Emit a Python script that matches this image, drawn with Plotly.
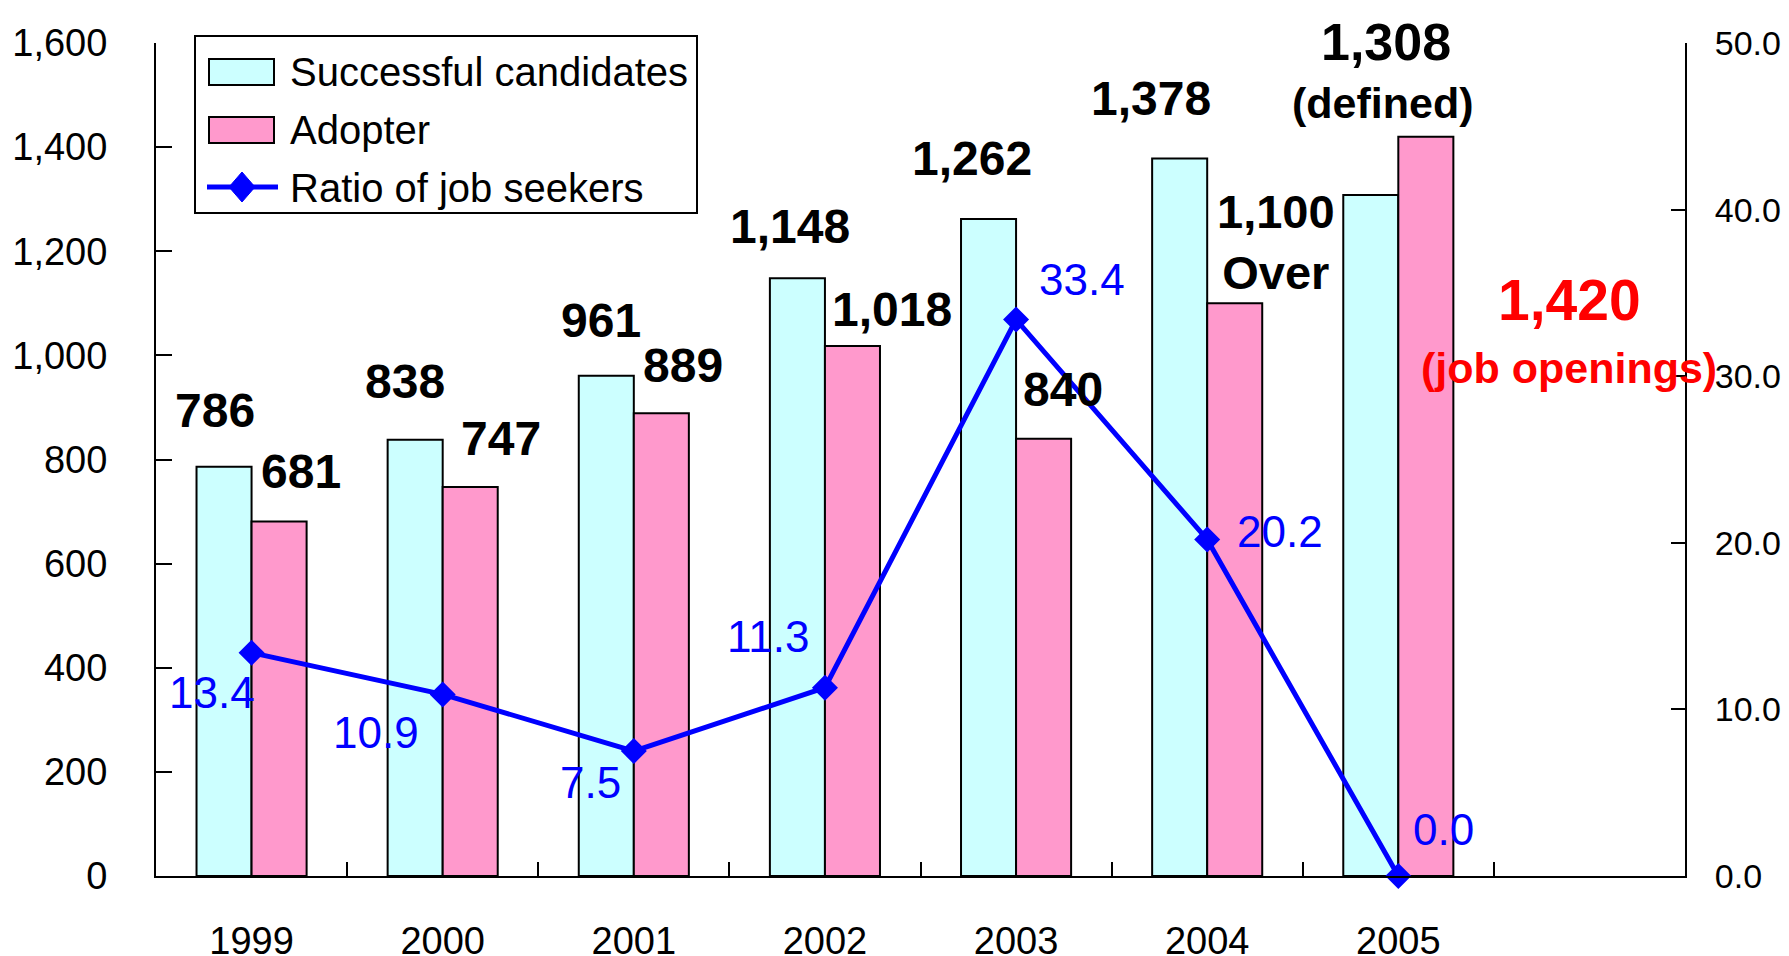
import plotly.graph_objects as go

# ---- data ----
years = ["1999", "2000", "2001", "2002", "2003", "2004", "2005"]
successful = [786, 838, 961, 1148, 1262, 1378, 1308]
adopter = [681, 747, 889, 1018, 840, 1100, 1420]
ratio = [13.4, 10.9, 7.5, 11.3, 33.4, 20.2, 0.0]
left_ticks = [0, 200, 400, 600, 800, 1000, 1200, 1400, 1600]
right_ticks = [0, 10, 20, 30, 40, 50]

# ---- layout geometry (page pixels) ----
OFF = 8                      # default body margin of the html page
W, H = 1789 - OFF, 956 - OFF
PL, PR, PT, PB = 156, 1685, 43, 876          # plot area in page pixels
L, T = PL - OFF, PT - OFF
PW, PH = PR - PL, PB - PT
R = W - L - PW
B = H - T - PH

def px(x):  # page pixel x -> paper
    return (x - PL) / PW

def py(y):  # page pixel y -> paper
    return (PB - y) / PH

FONT = "Arial, Liberation Sans, sans-serif"
CYAN = "#CCFFFF"
PINK = "#FF99CC"
BLUE = "#0000FF"

fig = go.Figure()
fig.add_trace(go.Bar(x=years, y=successful, name="Successful candidates",
                     marker=dict(color=CYAN, line=dict(color="black", width=2))))
fig.add_trace(go.Bar(x=years, y=adopter, name="Adopter",
                     marker=dict(color=PINK, line=dict(color="black", width=2))))
fig.add_trace(go.Scatter(x=years, y=ratio, name="Ratio of job seekers", yaxis="y2",
                         mode="lines+markers", cliponaxis=False,
                         line=dict(color=BLUE, width=5),
                         marker=dict(symbol="diamond", size=20, color=BLUE)))

# ---- label offsets (pixels) ----
succ_off = [(-37, 56), (-38, 58), (-33, 55), (-35, 52), (-44, 60), (-56, 60), (-12, 153)]
adop_off = [(49, 50), (58, 49), (49, 48), (67, 37), (47, 49), (69, 61), (171, -163)]
ratio_off = [(-40, -40), (-67, -38), (-43, -31), (-57, 51), (66, 40), (73, 8), (45, 47)]

ann = []
for i, v in enumerate(successful):
    dx, dy = succ_off[i]
    ann.append(dict(x=i, y=v, xref="x", yref="y", text=f"<b>{v:,}</b>",
                    xshift=dx, yshift=dy, showarrow=False,
                    font=dict(family=FONT, size=52 if i == 6 else 48, color="black")))
# "(defined)" under the 2005 successful label
ann.append(dict(x=6, y=successful[6], xref="x", yref="y", text="<b>(defined)</b>",
                xshift=-15, yshift=92, showarrow=False,
                font=dict(family=FONT, size=43, color="black")))

for i, v in enumerate(adopter):
    dx, dy = adop_off[i]
    if i == 5:
        txt = f"<b>{v:,}<br>Over</b>"
        f = dict(family=FONT, size=47, color="black")
    elif i == 6:
        txt = f"<b>{v:,}</b>"
        f = dict(family=FONT, size=57, color="#FF0000")
    else:
        txt = f"<b>{v:,}</b>"
        f = dict(family=FONT, size=48, color="black")
    ann.append(dict(x=i, y=v, xref="x", yref="y", text=txt, xshift=dx, yshift=dy,
                    showarrow=False, font=f))
ann.append(dict(x=6, y=adopter[6], xref="x", yref="y", text="<b>(job openings)</b>",
                xshift=171, yshift=-231, showarrow=False,
                font=dict(family=FONT, size=43, color="#FF0000")))

for i, v in enumerate(ratio):
    dx, dy = ratio_off[i]
    ann.append(dict(x=i, y=v, xref="x", yref="y2", text=f"{v:.1f}", xshift=dx, yshift=dy,
                    showarrow=False, font=dict(family=FONT, size=44, color=BLUE)))

# partially visible unit mark at top right
ann.append(dict(x=px(1781), y=py(14), xref="paper", yref="paper", text="%",
                xanchor="left", yanchor="middle", showarrow=False,
                font=dict(family=FONT, size=20, color="black")))

# ---- manual legend ----
shapes = []
shapes.append(dict(type="rect", xref="paper", yref="paper",
                   x0=px(195), x1=px(697), y0=py(213), y1=py(36),
                   line=dict(color="black", width=2), fillcolor="white", layer="above"))
shapes.append(dict(type="rect", xref="paper", yref="paper",
                   x0=px(209), x1=px(274), y0=py(85), y1=py(59),
                   line=dict(color="black", width=2), fillcolor=CYAN, layer="above"))
shapes.append(dict(type="rect", xref="paper", yref="paper",
                   x0=px(209), x1=px(274), y0=py(143), y1=py(117),
                   line=dict(color="black", width=2), fillcolor=PINK, layer="above"))
shapes.append(dict(type="line", xref="paper", yref="paper",
                   x0=px(207), x1=px(278), y0=py(187), y1=py(187),
                   line=dict(color=BLUE, width=5), layer="above"))
cx, cy = 242, 187
shapes.append(dict(type="path", xref="paper", yref="paper",
                   path=f"M {px(cx-13)} {py(cy)} L {px(cx)} {py(cy-15)} L {px(cx+13)} {py(cy)} L {px(cx)} {py(cy+15)} Z",
                   line=dict(color=BLUE, width=1), fillcolor=BLUE, layer="above"))
for label, yc in [("Successful candidates", 72), ("Adopter", 130), ("Ratio of job seekers", 188)]:
    ann.append(dict(x=px(288), y=py(yc), xref="paper", yref="paper", text=label,
                    xanchor="left", yanchor="middle", showarrow=False,
                    font=dict(family=FONT, size=40, color="black")))

fig.update_layout(
    width=W, height=H,
    margin=dict(l=L, r=R, t=T, b=B, pad=0, autoexpand=False),
    paper_bgcolor="white", plot_bgcolor="white",
    showlegend=False,
    barmode="group", bargap=0.424, bargroupgap=0,
    font=dict(family=FONT, size=38, color="black"),
    xaxis=dict(type="category", categoryorder="array", categoryarray=years,
               range=[-0.5, 7.5], showline=True, linecolor="black", linewidth=2,
               ticks="inside", tickson="boundaries", ticklen=14, tickwidth=1.5,
               tickcolor="black", showgrid=False, zeroline=False, automargin=False,
               tickfont=dict(family=FONT, size=38, color="black"),
               ticklabelstandoff=30),
    yaxis=dict(range=[0, 1600], tickvals=left_ticks, tickformat=",",
               showline=True, linecolor="black", linewidth=2,
               ticks="inside", ticklen=16, tickwidth=2, tickcolor="black",
               showgrid=False, zeroline=False, automargin=False,
               tickfont=dict(family=FONT, size=38, color="black"),
               ticklabelstandoff=39),
    yaxis2=dict(range=[0, 50], tickvals=right_ticks, tickformat=".1f",
                overlaying="y", side="right",
                showline=True, linecolor="black", linewidth=2,
                ticks="inside", ticklen=14, tickwidth=2, tickcolor="black",
                showgrid=False, zeroline=False, automargin=False,
                tickfont=dict(family=FONT, size=34, color="black"),
                ticklabelstandoff=21),
    annotations=ann, shapes=shapes,
)

fig.write_html("out.html")
